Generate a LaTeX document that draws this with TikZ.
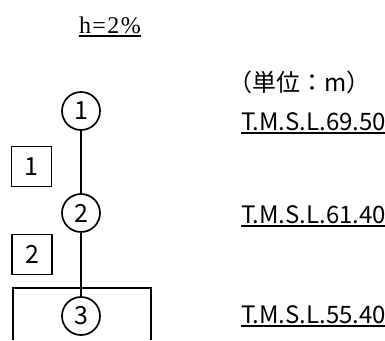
\documentclass[tikz,border=0pt]{standalone}
\usepackage{fontspec}
\setmainfont{Noto Sans CJK JP}
\newfontfamily\mincho[LetterSpace=6]{Liberation Serif}
\begin{document}
\begin{tikzpicture}[x=1pt,y=-1pt,line join=miter,
  pt/.style={draw,circle,line width=1.7pt,minimum size=38pt,inner sep=0pt,font=\fontsize{25}{25}\selectfont},
  sec/.style={draw,line width=1.5pt,minimum size=40pt,inner sep=0pt,font=\fontsize{25}{25}\selectfont},
  lvl/.style={anchor=base west,inner sep=0pt,outer sep=0pt,font=\fontsize{24}{24}\selectfont},
  ul/.style={line width=2pt}]
  \useasboundingbox (0,0) rectangle (385,340);
  % slope
  \node[anchor=base,inner sep=0pt,font=\mincho\fontsize{24}{24}\selectfont] (slope) at (110,33) {h=2\%};
  \draw[ul] ([yshift=-3pt]slope.base west) -- ([yshift=-3pt]slope.base east);
  % points and sections
  \node[pt] (n1) at (81,111) {1};
  \node[pt] (n2) at (81,213) {2};
  \node[pt] (n3) at (81,316) {3};
  \draw[line width=1.1pt] (13,340)--(13,288)--(151,288)--(151,340);
  \draw[line width=2.6pt] (n1)--(n2) (n2)--(n3);
  \node[sec] (b1) at (31.5,166.5) {1};
  \node[sec] (b2) at (32,254.5) {2};
  % levels
  \node[anchor=west,inner sep=0pt,font=\fontsize{24}{24}\selectfont] (unit) at (228,82) {（単位：m）};
  \node[lvl] (el1) at (241,130) {T.M.S.L.69.50};
  \node[lvl] (el2) at (241,223) {T.M.S.L.61.40};
  \node[lvl] (el3) at (241,323) {T.M.S.L.55.40};
  \foreach \e in {el1,el2,el3}
    \draw[ul] ([yshift=-3pt]\e.base west) -- ([yshift=-3pt]\e.base east);
\end{tikzpicture}
\end{document}
